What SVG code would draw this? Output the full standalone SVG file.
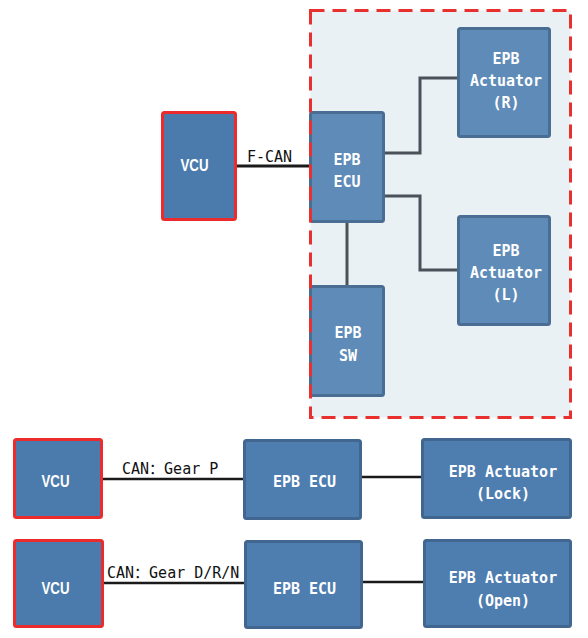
<svg xmlns="http://www.w3.org/2000/svg" width="588" height="638" viewBox="0 0 588 638">
<style>
.vcu{fill:#4b7bad;stroke:#ec2c2c;stroke-width:3}
.top{fill:#5e8bb8;stroke:#4a6d93;stroke-width:3}
.bot{fill:#4e7db0;stroke:#416690;stroke-width:3}
.wt{fill:#ffffff;font-family:"DejaVu Sans Mono","Noto Sans CJK SC",monospace;font-size:15px;font-weight:bold;text-anchor:middle}
.vt{fill:#ffffff;font-family:"Liberation Sans",Arial,sans-serif;font-size:17px;font-weight:bold;text-anchor:middle}
.bt{fill:#111111;font-family:"DejaVu Sans Mono","Noto Sans CJK SC",monospace;font-size:15px}
.g{fill:none;stroke:#4a5158;stroke-width:3}
.k{fill:none;stroke:#1a1a1a;stroke-width:3}
.k2{fill:none;stroke:#1a1a1a;stroke-width:2.5}
</style>
<rect id="frame-bg" x="310.5" y="10.5" width="260" height="407" fill="#e9f1f5"/>
<g id="connectors">
<line class="k" x1="237" y1="166" x2="309" y2="166"/>
<polyline class="g" points="385,153 420,153 420,78 457,78"/>
<polyline class="g" points="385,196 420,196 420,270 457,270"/>
<line class="g" x1="347" y1="223" x2="347" y2="285"/>
<line class="k2" x1="103" y1="479" x2="243" y2="479"/>
<line class="k2" x1="362" y1="477" x2="421" y2="477"/>
<line class="k2" x1="104" y1="583" x2="244" y2="583"/>
<line class="k2" x1="363" y1="582" x2="423" y2="582"/>
<text class="bt" x="247" y="162">F-CAN</text>
<text class="bt" x="122" y="474">CAN：Gear P</text>
<text class="bt" x="107" y="578">CAN：Gear D/R/N</text>
</g>
<g id="vcu-top">
<rect class="vcu" x="162.5" y="112.5" width="73" height="107" rx="2"/>
<text class="vt" x="194.5" y="171" textLength="28" lengthAdjust="spacingAndGlyphs">VCU</text>
</g>
<g id="ecu-top">
<rect class="top" x="310.5" y="112.5" width="73" height="109" rx="2"/>
<text class="wt" x="347" y="165">EPB</text>
<text class="wt" x="347" y="187">ECU</text>
</g>
<g id="act-r">
<rect class="top" x="458.5" y="28.5" width="91" height="108" rx="2"/>
<text class="wt" x="506" y="64">EPB</text>
<text class="wt" x="506" y="86">Actuator</text>
<text class="wt" x="506" y="108">(R)</text>
</g>
<g id="act-l">
<rect class="top" x="458.5" y="216.5" width="91" height="108" rx="2"/>
<text class="wt" x="506" y="256">EPB</text>
<text class="wt" x="506" y="278">Actuator</text>
<text class="wt" x="506" y="300">(L)</text>
</g>
<g id="sw">
<rect class="top" x="310.5" y="286.5" width="73" height="109" rx="2"/>
<text class="wt" x="348" y="338">EPB</text>
<text class="wt" x="348" y="361">SW</text>
</g>
<rect id="frame" x="310.5" y="10.5" width="260" height="407" fill="none" stroke="#e8302f" stroke-width="3" stroke-dasharray="14 8"/>
<g id="vcu-1">
<rect class="vcu" x="14.5" y="439.5" width="87" height="78" rx="2"/>
<text class="vt" x="55.5" y="487" textLength="28" lengthAdjust="spacingAndGlyphs">VCU</text>
</g>
<g id="ecu-1">
<rect class="bot" x="244.5" y="440.5" width="116" height="78" rx="2"/>
<text class="wt" x="304.5" y="487">EPB ECU</text>
</g>
<g id="act-lock">
<rect class="bot" x="422.5" y="439.5" width="148" height="78" rx="2"/>
<text class="wt" x="503" y="477">EPB Actuator</text>
<text class="wt" x="503" y="499">(Lock)</text>
</g>
<g id="vcu-2">
<rect class="vcu" x="14.5" y="540.5" width="88" height="86" rx="2"/>
<text class="vt" x="55.5" y="594" textLength="28" lengthAdjust="spacingAndGlyphs">VCU</text>
</g>
<g id="ecu-2">
<rect class="bot" x="245.5" y="541.5" width="116" height="86" rx="2"/>
<text class="wt" x="304.5" y="594">EPB ECU</text>
</g>
<g id="act-open">
<rect class="bot" x="424.5" y="540.5" width="146" height="86" rx="2"/>
<text class="wt" x="503" y="583">EPB Actuator</text>
<text class="wt" x="503" y="606">(Open)</text>
</g>
</svg>
